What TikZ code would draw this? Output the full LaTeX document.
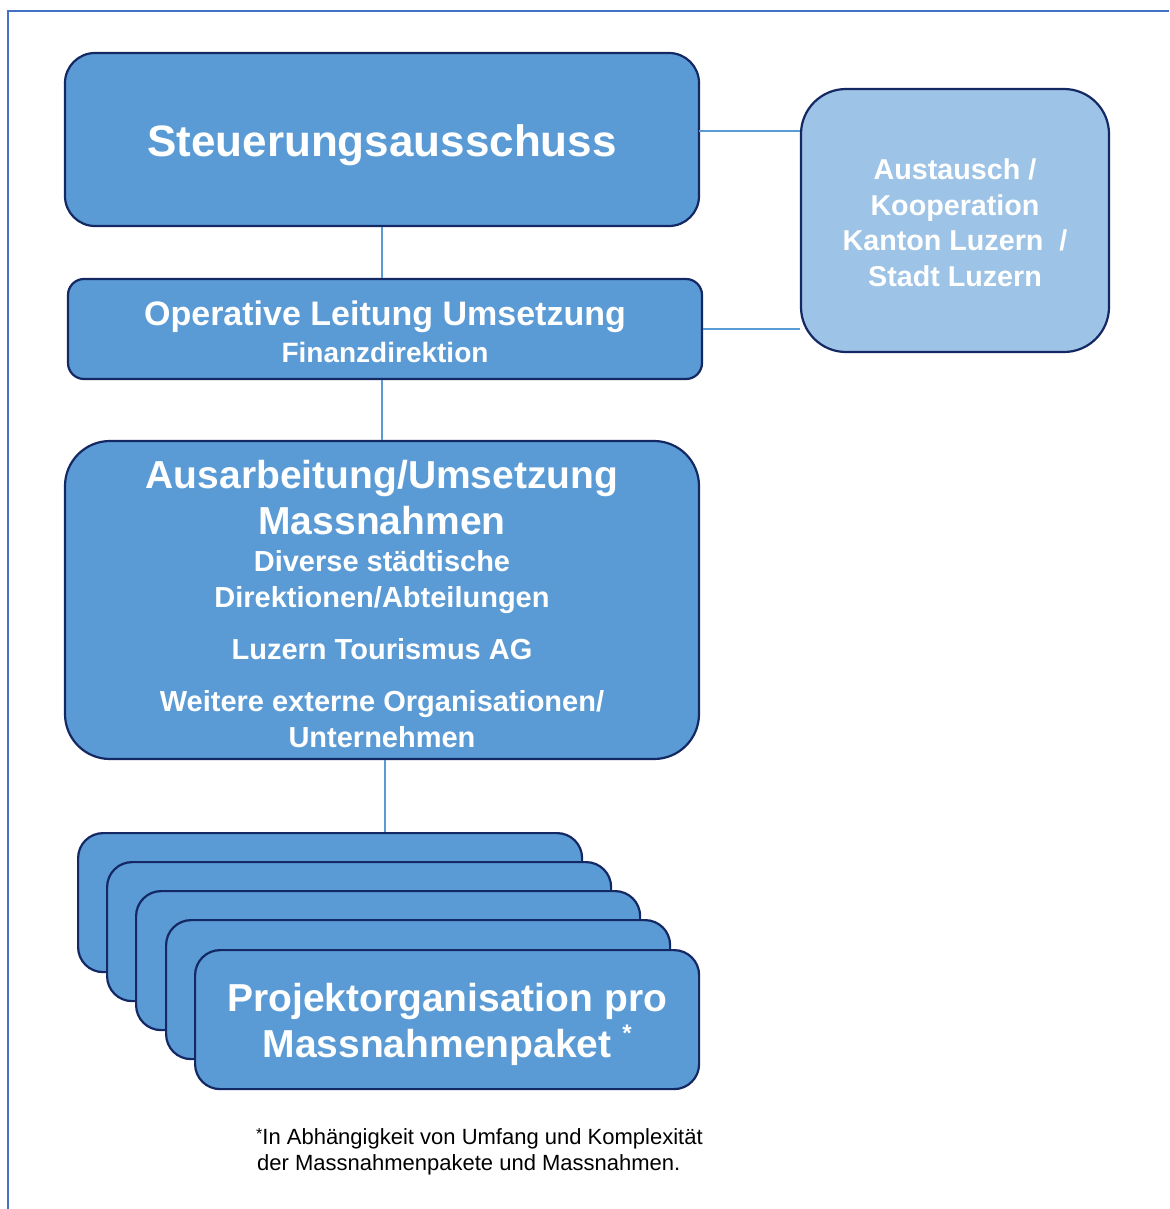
\documentclass[tikz,border=0pt]{standalone}
\usepackage{fontspec}
\setmainfont{Liberation Sans}
\usetikzlibrary{calc}
\definecolor{boxfill}{HTML}{5B9BD5}
\definecolor{lightfill}{HTML}{9DC3E6}
\definecolor{boxedge}{RGB}{20,40,100}
\definecolor{framecol}{HTML}{4472C4}
\definecolor{linkcol}{HTML}{5B9BD5}
\tikzset{
  orgbox/.style={draw=boxedge, fill=boxfill, line width=2.2pt, inner sep=0pt},
  sidebox/.style={orgbox, fill=lightfill},
  link/.style={draw=linkcol, line width=1.3pt},
  wtxt/.style={text=white, inner sep=0pt, anchor=base, font=\bfseries},
  fnote/.style={text=black, inner sep=0pt, anchor=base west, align=left},
}
\newcommand{\fs}[1]{\fontsize{#1}{#1}\selectfont}
\begin{document}
\begin{tikzpicture}[x=1pt,y=-1pt]
\useasboundingbox (0,0) rectangle (1169,1209);
% frame
\draw[framecol, line width=2pt] (8,1209) -- (8,11) -- (1169,11);

\coordinate (sE) at (699,131);
\coordinate (stackTop) at (385,832);

% boxes
\node[orgbox, rounded corners=30pt, minimum width=634pt, minimum height=173pt] (s) at (382,139.5) {};
\node[orgbox, rounded corners=16pt, minimum width=634pt, minimum height=100pt] (o) at (385,329) {};
\node[orgbox, rounded corners=45pt, minimum width=634pt, minimum height=318pt] (m) at (382,600) {};
\node[sidebox, rounded corners=45pt, minimum width=308pt, minimum height=263pt] (r) at (955,220.5) {};

% connectors
\draw[link] (s.south) -- (s.south |- o.north);
\draw[link] (o.south -| s.south) -- (s.south |- m.north);
\draw[link] (sE) -- (sE -| r.west);
\draw[link] (o.east) -- (o.east -| r.west);
\draw[link] (m.south) ++(3,0) coordinate (mS) -- (mS |- stackTop);

% texts in main boxes
\node[wtxt, font=\bfseries\fs{44}] (t1) at (382,157) {Steuerungsausschuss};
\node[wtxt, font=\bfseries\fs{34}] (t2) at (385,325) {Operative Leitung Umsetzung};
\node[wtxt, font=\bfseries\fs{28}] (t3) at (385,362) {Finanzdirektion};
\node[wtxt, font=\bfseries\fs{39}] (t4) at (382,488) {Ausarbeitung/Umsetzung};
\node[wtxt, font=\bfseries\fs{39}] (t5) at (382,534) {Massnahmen};
\node[wtxt, font=\bfseries\fs{29}] (t6) at (382,571) {Diverse städtische};
\node[wtxt, font=\bfseries\fs{29}] (t7) at (382,607) {Direktionen/Abteilungen};
\node[wtxt, font=\bfseries\fs{29}] (t8) at (382,659) {Luzern Tourismus AG};
\node[wtxt, font=\bfseries\fs{29}] (t9) at (382,711) {Weitere externe Organisationen/};
\node[wtxt, font=\bfseries\fs{29}] (t10) at (382,747) {Unternehmen};

% side box texts
\node[wtxt, font=\bfseries\fs{28.7}] (r1) at (955,180) {Austausch /};
\node[wtxt, font=\bfseries\fs{28.7}] (r2) at (955,215) {Kooperation};
\node[wtxt, font=\bfseries\fs{28.7}] (r3) at (955,250) {Kanton Luzern\ \ /};
\node[wtxt, font=\bfseries\fs{28.7}] (r4) at (955,286) {Stadt Luzern};

% stacked project boxes
\foreach \i/\x/\y in {1/77/832, 2/106/861, 3/135/890, 4/165/919, 5/194/949}{
  \node[orgbox, rounded corners=25pt, anchor=north west, minimum width=504pt, minimum height=139pt] (p\i) at (\x,\y) {};
}
\node[wtxt, font=\bfseries\fs{39}] (pa) at ($(p5.north)+(0,62)$) {Projektorganisation pro};
\node[wtxt, font=\bfseries\fs{39}] (pb) at ($(p5.north)+(0,108)$) {Massnahmenpaket \raisebox{16pt}{\fs{24}*}};

% footnote
\node[fnote, font=\fs{22}] (fn1) at (256,1144) {\raisebox{5pt}{\fs{16}*}In Abhängigkeit von Umfang und Komplexität};
\node[fnote, font=\fs{22}] (fn2) at (257,1170) {der Massnahmenpakete und Massnahmen.};
\end{tikzpicture}
\end{document}
